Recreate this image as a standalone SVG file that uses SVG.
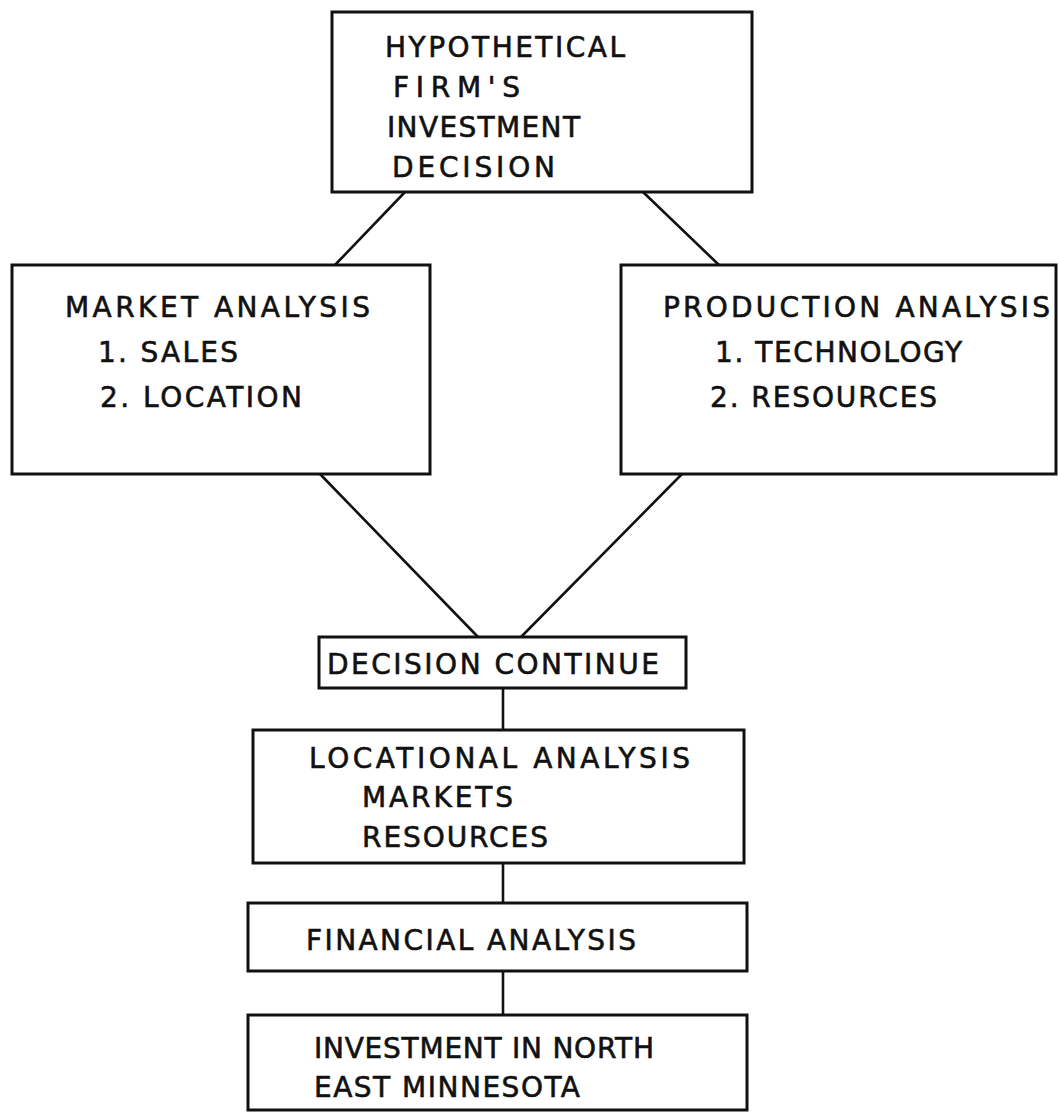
<svg xmlns="http://www.w3.org/2000/svg" width="1058" height="1112" viewBox="0 0 1058 1112">
<style>
.box{fill:#fff;stroke:#111;stroke-width:3}
.ln{stroke:#111;stroke-width:2.6;fill:none;stroke-linecap:round}
text{font-family:"DejaVu Sans","Liberation Sans",sans-serif;font-size:28px;fill:#111;stroke:#111;stroke-width:0.6}
</style>
<rect width="1058" height="1112" fill="#fff"/>
<g id="connectors">
<line class="ln" x1="405" y1="192" x2="335" y2="265"/>
<line class="ln" x1="643" y1="192" x2="719" y2="265"/>
<line class="ln" x1="320" y1="474" x2="478" y2="637"/>
<line class="ln" x1="682" y1="474" x2="521" y2="637"/>
<line class="ln" x1="503" y1="688" x2="503" y2="730"/>
<line class="ln" x1="503" y1="863" x2="503" y2="903"/>
<line class="ln" x1="503" y1="971" x2="503" y2="1015"/>
</g>
<g id="node-hypothetical">
<rect class="box" x="332" y="12" width="420" height="180"/>
<text x="385" y="57" textLength="240" lengthAdjust="spacing">HYPOTHETICAL</text>
<text x="393" y="97" textLength="127" lengthAdjust="spacing">FIRM'S</text>
<text x="387" y="137" textLength="193" lengthAdjust="spacing">INVESTMENT</text>
<text x="392" y="177" textLength="163" lengthAdjust="spacing">DECISION</text>
</g>
<g id="node-market">
<rect class="box" x="12" y="265" width="418" height="209"/>
<text x="65" y="317" textLength="305" lengthAdjust="spacing">MARKET ANALYSIS</text>
<text x="98" y="362" textLength="140" lengthAdjust="spacing">1. SALES</text>
<text x="100" y="407" textLength="202" lengthAdjust="spacing">2. LOCATION</text>
</g>
<g id="node-production">
<rect class="box" x="621" y="265" width="435" height="209"/>
<text x="663" y="317" textLength="387" lengthAdjust="spacing">PRODUCTION ANALYSIS</text>
<text x="715" y="362" textLength="247" lengthAdjust="spacing">1. TECHNOLOGY</text>
<text x="710" y="407" textLength="227" lengthAdjust="spacing">2. RESOURCES</text>
</g>
<g id="node-decision-continue">
<rect class="box" x="319" y="637" width="367" height="51"/>
<text x="327" y="674" textLength="332" lengthAdjust="spacing">DECISION CONTINUE</text>
</g>
<g id="node-locational">
<rect class="box" x="253" y="730" width="491" height="133"/>
<text x="309" y="768" textLength="381" lengthAdjust="spacing">LOCATIONAL ANALYSIS</text>
<text x="362" y="807" textLength="151" lengthAdjust="spacing">MARKETS</text>
<text x="362" y="847" textLength="186" lengthAdjust="spacing">RESOURCES</text>
</g>
<g id="node-financial">
<rect class="box" x="248" y="903" width="499" height="68"/>
<text x="306" y="950" textLength="330" lengthAdjust="spacing">FINANCIAL ANALYSIS</text>
</g>
<g id="node-investment">
<rect class="box" x="248" y="1015" width="499" height="95"/>
<text x="314" y="1058" textLength="340" lengthAdjust="spacing">INVESTMENT IN NORTH</text>
<text x="314" y="1097" textLength="266" lengthAdjust="spacing">EAST MINNESOTA</text>
</g>
</svg>
